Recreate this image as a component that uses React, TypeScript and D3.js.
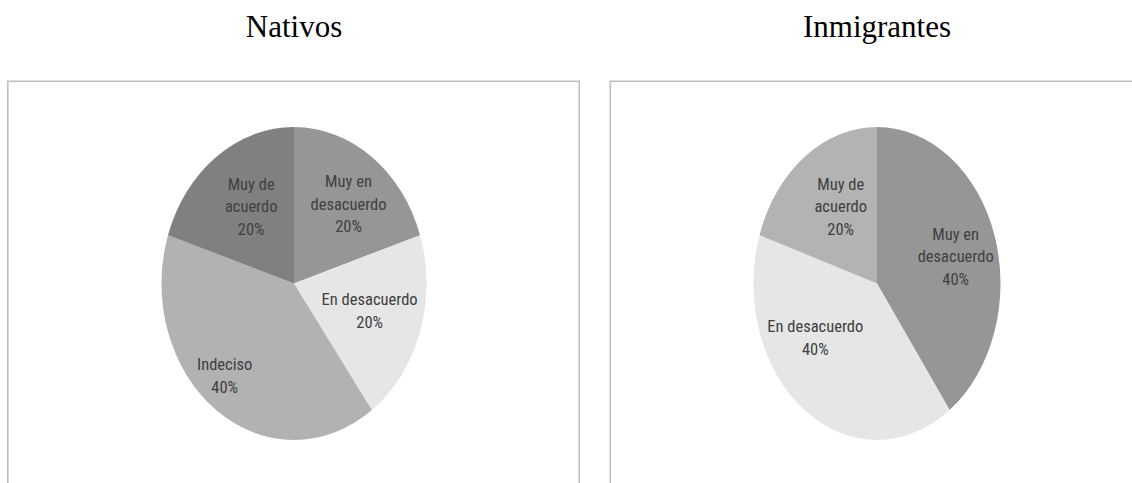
import React from "react";
import * as d3 from "d3";

// ---- data ----
const CATEGORIES = ["Muy en desacuerdo", "En desacuerdo", "Indeciso", "Muy de acuerdo"];
const LABEL_LINES = [["Muy en", "desacuerdo"], ["En desacuerdo"], ["Indeciso"], ["Muy de", "acuerdo"]];
const NATIVOS = [20, 20, 40, 20];
const INMIGRANTES = [40, 40, 0, 20];
const TITLES = ["Nativos", "Inmigrantes"];

// ---- styles / layout ----
const COLORS_NATIVOS = ["#969696", "#e6e6e6", "#b2b2b2", "#808080"];
const COLORS_INMIG = ["#969696", "#e6e6e6", "#b2b2b2", "#b3b3b3"];
const LABEL_F_NATIVOS: [number, number][] = [[0.70, 0.63], [0.60, 0.56], [0.89, 0.73], [0.55, 0.61]];
const LABEL_F_INMIG: [number, number][] = [[0.67, 0.56], [0.85, 0.43], [0.6, 0.6], [0.50, 0.61]];

const W = 1132;
const H = 483;

type PanelProps = {
  title: string;
  values: number[];
  colors: string[];
  labelF: [number, number][];
  box: [number, number, number, number];
  cx: number;
  cy: number;
  rx: number;
  ry: number;
};

function Panel({ title, values, colors, labelF, box, cx, cy, rx, ry }: PanelProps) {
  const R = 100;
  const pie = d3.pie<number>().sort(null).value((d) => d)(values);
  const arc = d3.arc<d3.PieArcDatum<number>>().innerRadius(0).outerRadius(R);
  const total = d3.sum(values);
  const fmt = d3.format(".0%");
  const lineH = 22.5;
  return (
    <g>
      <text
        x={cx}
        y={37}
        textAnchor="middle"
        fontFamily="'Liberation Serif', 'Times New Roman', serif"
        fontSize={31}
        fill="#000"
      >
        {title}
      </text>
      <rect x={box[0]} y={box[1]} width={box[2]} height={box[3]} fill="#fff" stroke="#c0c0c0" strokeWidth={1.6} />
      <g transform={`translate(${cx},${cy}) scale(${rx / R},${ry / R})`}>
        {pie.map((d, i) =>
          d.value > 0 ? <path key={i} d={arc(d) || ""} fill={colors[i]} /> : null
        )}
      </g>
      {pie.map((d, i) => {
        if (d.value <= 0) return null;
        const mid = (d.startAngle + d.endAngle) / 2;
        const [fx, fy] = labelF[i];
        const x = cx + rx * fx * Math.sin(mid);
        const y = cy - ry * fy * Math.cos(mid);
        const lines = [...LABEL_LINES[i], fmt(d.value / total)];
        const y0 = y - ((lines.length - 1) * lineH) / 2;
        return (
          <text
            key={"l" + i}
            textAnchor="middle"
            fontFamily="'Liberation Sans Narrow', 'Arial Narrow', 'Roboto Condensed', sans-serif"
            fontSize={16.5}
            fill="#404040"
          >
            {lines.map((t, j) => (
              <tspan key={j} x={x} y={y0 + j * lineH} dy="0.35em">
                {t}
              </tspan>
            ))}
          </text>
        );
      })}
    </g>
  );
}

export default function App() {
  return (
    <svg
      width={W}
      height={H}
      style={{ position: "absolute", left: 0, top: 0, background: "#fff" }}
    >
      <rect x={0} y={0} width={W} height={H} fill="#fff" />
      <Panel
        title={TITLES[0]}
        values={NATIVOS}
        colors={COLORS_NATIVOS}
        labelF={LABEL_F_NATIVOS}
        box={[7.8, 81.3, 571.5, 460]}
        cx={294}
        cy={283.5}
        rx={132.5}
        ry={156.5}
      />
      <Panel
        title={TITLES[1]}
        values={INMIGRANTES}
        colors={COLORS_INMIG}
        labelF={LABEL_F_INMIG}
        box={[610.3, 81.3, 540, 460]}
        cx={877}
        cy={283.5}
        rx={123.5}
        ry={156.5}
      />
    </svg>
  );
}
